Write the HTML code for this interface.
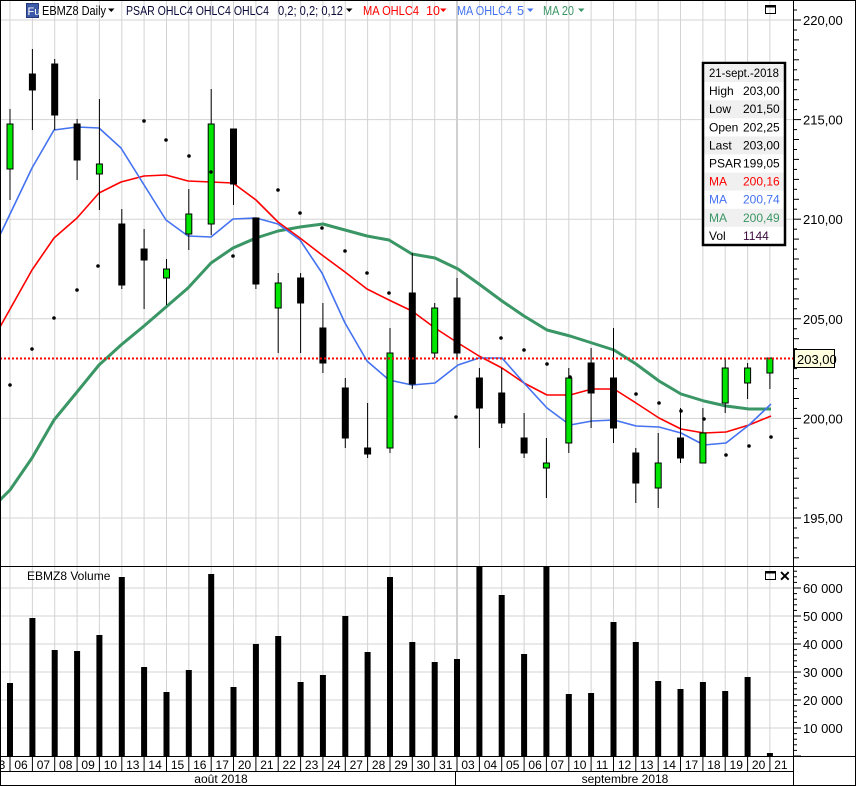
<!DOCTYPE html>
<html><head><meta charset="utf-8"><style>
html,body{margin:0;padding:0;background:#fff;width:856px;height:786px;overflow:hidden}
svg{display:block;font-family:"Liberation Sans",Arial,sans-serif}
</style></head><body>
<svg id="s" width="856" height="786" xmlns="http://www.w3.org/2000/svg"></svg>
<script>
var s=document.getElementById('s');var h='';
function X(i){return 10+22.35*i;}
function Y(p){return 20+(220-p)*19.92;}
h+='<rect x="0" y="0" width="856" height="786" fill="#fff"/>';
for(var i=0;i<35;i++){var x=X(i).toFixed(1);h+='<line x1="'+x+'" y1="0" x2="'+x+'" y2="757" stroke="'+(i==20?'#c4c4c4':'#d3d3d3')+'" stroke-width="'+(i==20?1.6:1)+'"/>';}
[220,215,210,205,200,195].forEach(function(p){var y=Y(p).toFixed(1);h+='<line x1="0" y1="'+y+'" x2="793" y2="'+y+'" stroke="#d3d3d3"/>';});
function VY(v){return 756-v*0.0028;}
[60000,50000,40000,30000,20000,10000].forEach(function(v){var y=VY(v).toFixed(1);h+='<line x1="0" y1="'+y+'" x2="793" y2="'+y+'" stroke="#d3d3d3"/>';});
function pl(pts,c,w){var d=pts.map(function(p){return p[0]+','+p[1]}).join(' ');h+='<polyline points="'+d+'" fill="none" stroke="'+c+'" stroke-width="'+w+'" stroke-linejoin="round"/>';}
pl([[0,500],[10,490],[32,458],[54,420],[77,392],[99,365],[121,345],[144,326],[166,307],[188,288],[211,263],[233,248],[256,238],[278,231],[300,227],[323,224],[345,230],[367,236],[389,240],[412,254],[435,258],[458,269],[479,284],[502,301],[524,316],[547,330],[570,336],[592,343],[614,350],[636,364],[659,381],[681,394],[704,401],[726,406],[749,409],[771,409]],'#3a9665',3);
pl([[0,327],[32,270],[54,238],[77,218],[99,193],[121,182],[144,176],[166,175],[188,181],[211,182],[233,183],[256,200],[278,222],[300,238],[322,255],[345,272],[367,289],[389,300],[412,311],[435,328],[458,343],[479,356],[502,368],[524,383],[547,395],[570,395],[592,389],[614,389],[636,403],[659,418],[681,429],[704,433],[726,432],[749,425],[771,416]],'#ff0000',1.6);
pl([[0,235],[32,168],[54,130],[77,127],[99,128],[121,148],[166,220],[188,236],[211,237],[233,219],[256,218],[278,224],[300,240],[322,273],[345,323],[367,361],[389,380],[412,385],[435,383],[458,365],[479,358],[502,358],[524,383],[547,408],[570,425],[592,421],[614,420],[636,426],[659,427],[681,433],[704,445],[726,443],[749,425],[771,404]],'#4472f0',1.6);
var C=[[1,124,169,109,200],[0,74,90,49,130],[0,64,115,59,130],[0,124,160,119,180],[1,164,174,99,210],[0,224,285,209,289],[0,249,260,229,309],[1,269,278,259,305],[1,214,234,189,250],[1,124,224,89,235],[0,129,184,129,205],[0,218,284,218,289],[1,283,308,273,353],[0,278,303,273,353],[0,328,363,303,373],[0,388,438,378,448],[0,448,454,403,458],[1,353,448,328,453],[0,293,384,253,389],[1,308,353,303,358],[0,298,353,278,358],[0,378,408,368,448],[0,393,423,368,428],[0,438,453,413,458],[1,463,468,438,498],[1,378,443,368,453],[0,363,393,348,428],[0,378,428,328,443],[0,453,483,448,503],[1,463,488,433,508],[0,438,458,408,463],[1,433,463,408,463],[1,368,403,358,413],[1,368,383,363,399],[1,358,373,358,389]];
C.forEach(function(c,i){var x=X(i);h+='<line x1="'+x.toFixed(1)+'" y1="'+c[3]+'" x2="'+x.toFixed(1)+'" y2="'+c[4]+'" stroke="#000"/>';
h+='<rect x="'+(x-3).toFixed(1)+'" y="'+c[1]+'" width="6" height="'+Math.max(1,c[2]-c[1])+'" fill="'+(c[0]?'#00e600':'#000')+'" stroke="#000" stroke-width="1"/>';});
[[10,385],[32,349],[54,318],[77,290],[98,266],[144,121],[166,140],[189,156],[211,172],[233,256],[278,190],[300,213],[322,228],[345,251],[367,273],[389,293],[456,417],[501,338],[524,350],[547,364],[570,377],[636,394],[659,403],[681,411],[704,419],[726,455],[749,446],[771,437]].forEach(function(d){h+='<circle cx="'+d[0]+'" cy="'+d[1]+'" r="1.8" fill="#000"/>';});
h+='<line x1="0" y1="358.5" x2="793" y2="358.5" stroke="#f00" stroke-width="2" stroke-dasharray="2,2"/>';
var V=[683,618,650,651,635,577,667,692,670,574,687,644,636,682,675,616,652,577,642,662,659,567,595,654,567,694,693,622,642,681,689,682,691,677,753];
V.forEach(function(t,i){var x=X(i);h+='<rect x="'+(x-3).toFixed(1)+'" y="'+t+'" width="6" height="'+(757-t)+'" fill="#000"/>';});
h+='<line x1="0" y1="0.5" x2="856" y2="0.5" stroke="#000"/>';
h+='<line x1="0.5" y1="0" x2="0.5" y2="786" stroke="#000"/>';
h+='<line x1="0" y1="566.5" x2="856" y2="566.5" stroke="#000"/>';
h+='<line x1="0" y1="756.5" x2="856" y2="756.5" stroke="#000"/>';
h+='<line x1="0" y1="771.5" x2="793" y2="771.5" stroke="#000"/>';
h+='<line x1="0" y1="785.5" x2="856" y2="785.5" stroke="#000"/>';
h+='<line x1="793.5" y1="0" x2="793.5" y2="786" stroke="#000"/>';
h+='<line x1="855.5" y1="0" x2="855.5" y2="786" stroke="#000"/>';
var fs=' font-size="12.5"';
h+='<rect x="26.5" y="3.5" width="12" height="14" fill="#3d5aa8" stroke="#23397a"/><text x="27.5" y="15"'+' font-size="11" fill="#fff">Fu</text>';
h+='<text x="42" y="15"'+fs+' fill="#000" textLength="64" lengthAdjust="spacingAndGlyphs">EBMZ8 Daily</text><path d="M108,8.5 l6.5,0 l-3.25,3.5z" fill="#000"/>';
h+='<text x="126" y="15"'+fs+' fill="#0a0a3a" textLength="143" lengthAdjust="spacingAndGlyphs">PSAR OHLC4 OHLC4 OHLC4</text>';
h+='<text x="278" y="15"'+fs+' fill="#0a0a3a" textLength="65" lengthAdjust="spacingAndGlyphs">0,2; 0,2; 0,12</text><path d="M346,8.5 l6.5,0 l-3.25,3.5z" fill="#000"/>';
h+='<text x="363" y="15"'+fs+' fill="#f00" textLength="56" lengthAdjust="spacingAndGlyphs">MA OHLC4</text><text x="426" y="15"'+fs+' fill="#f00">10</text><path d="M440,8.5 l6.5,0 l-3.25,3.5z" fill="#f00"/>';
h+='<text x="457" y="15"'+fs+' fill="#4472f0" textLength="55" lengthAdjust="spacingAndGlyphs">MA OHLC4</text><text x="517" y="15"'+fs+' fill="#4472f0">5</text><path d="M527,8.5 l6.5,0 l-3.25,3.5z" fill="#4472f0"/>';
h+='<text x="543" y="15"'+fs+' fill="#3a9665" textLength="31" lengthAdjust="spacingAndGlyphs">MA 20</text><path d="M578,8.5 l6.5,0 l-3.25,3.5z" fill="#3a9665"/>';
h+='<rect x="765.5" y="5.5" width="10" height="8" fill="none" stroke="#000"/><line x1="765" y1="6.5" x2="776" y2="6.5" stroke="#000" stroke-width="2"/>';
for(var p=192;p<=221;p+=0.5){var y=Y(p);if(y<2||y>565)continue;var maj=(p%5==0);h+='<line x1="794" y1="'+y.toFixed(1)+'" x2="'+(maj?801:(p%1==0?799:797))+'" y2="'+y.toFixed(1)+'" stroke="#000"/>';if(maj)h+='<text x="803" y="'+(y+5).toFixed(1)+'" font-size="13" fill="#000">'+p+',00</text>';}
h+='<rect x="794.5" y="349.5" width="40" height="18" fill="#ffffe0" stroke="#000"/><text x="797" y="364" font-size="13" fill="#000">203,00</text>';
h+='<rect x="703" y="63" width="82" height="182" fill="#fff" stroke="#000" stroke-width="2.5"/>';
var rows=[['21-sept.-2018','','#000'],['High','203,00','#000'],['Low','201,50','#000'],['Open','202,25','#000'],['Last','203,00','#000'],['PSAR','199,05','#000'],['MA','200,16','#f00'],['MA','200,74','#4472f0'],['MA','200,49','#3a9665'],['Vol','1144','#000']];
rows.forEach(function(r,k){var y=64+k*18.1;if(k%2==0)h+='<rect x="704.5" y="'+y.toFixed(1)+'" width="79" height="18" fill="#f0f0f0"/>';
var ty=(y+13).toFixed(1);
if(k==0){h+='<text x="709" y="'+ty+'" font-size="12" fill="#000" textLength="70" lengthAdjust="spacingAndGlyphs">21-sept.-2018</text>';return;}
h+='<text x="709" y="'+ty+'" font-size="12" fill="'+r[2]+'">'+r[0]+'</text>';h+='<text x="743" y="'+ty+'" font-size="12" fill="'+(r[0]=='Vol'?'#3a0a3a':r[2])+'">'+r[1]+'</text>';});
h+='<text x="27" y="580" font-size="12" fill="#000">EBMZ8 Volume</text>';
h+='<rect x="765.5" y="571.5" width="10" height="8" fill="none" stroke="#000"/><line x1="765" y1="572.5" x2="776" y2="572.5" stroke="#000" stroke-width="2"/>';
h+='<text x="779" y="581" font-size="14" font-weight="bold" fill="#000">✕</text>';
for(var v=0;v<=66000;v+=2000){var y=VY(v);if(y<569)continue;var maj=(v%10000==0);h+='<line x1="794" y1="'+y.toFixed(1)+'" x2="'+(maj?801:797)+'" y2="'+y.toFixed(1)+'" stroke="#000"/>';if(maj&&v>0)h+='<text x="803" y="'+(y+5).toFixed(1)+'" font-size="13" fill="#000">'+(v/1000)+' 000</text>';}
var L=['03','06','07','08','09','10','13','14','15','16','17','20','21','22','23','24','27','28','29','30','31','03','04','05','06','07','10','11','12','13','14','17','18','19','20','21'];
L.forEach(function(t,j){var c=X(j-1)+11;h+='<text x="'+c.toFixed(1)+'" y="769" font-size="12" text-anchor="middle" fill="#000">'+t+'</text>';});
for(var i=0;i<35;i++){var x=X(i).toFixed(1);h+='<line x1="'+x+'" y1="757" x2="'+x+'" y2="771" stroke="#000"/>';}
h+='<line x1="455.5" y1="771" x2="455.5" y2="786" stroke="#000"/>';
h+='<text x="221" y="783" font-size="12" text-anchor="middle" fill="#000">août 2018</text>';
h+='<text x="625" y="783" font-size="12" text-anchor="middle" fill="#000">septembre 2018</text>';
s.innerHTML=h;
</script>
</body></html>
